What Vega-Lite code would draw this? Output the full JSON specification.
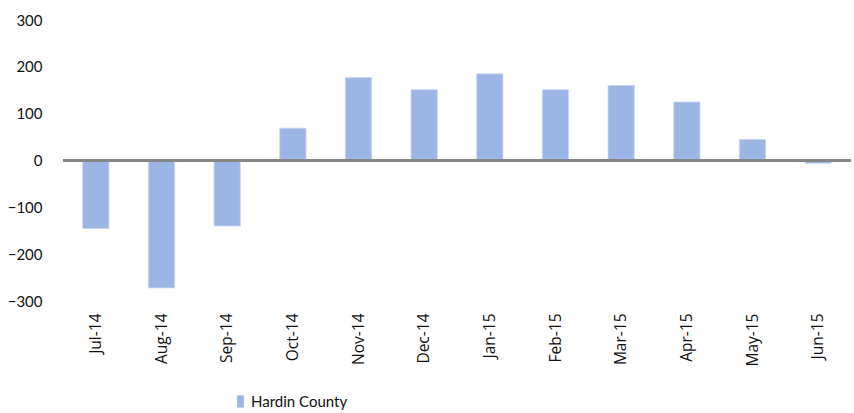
{
  "$schema": "https://vega.github.io/schema/vega-lite/v6.json",
  "autosize": {"type": "none"},
  "width": 788,
  "height": 281,
  "padding": {"left": 63, "top": 20, "right": 3, "bottom": 112},
  "background": "white",
  "config": {"view": {"stroke": null}, "font": "Lato"},
  "data": {"values": [
    {"month": "Jul-14", "value": -145, "series": "Hardin County"},
    {"month": "Aug-14", "value": -272, "series": "Hardin County"},
    {"month": "Sep-14", "value": -140, "series": "Hardin County"},
    {"month": "Oct-14", "value": 69, "series": "Hardin County"},
    {"month": "Nov-14", "value": 177, "series": "Hardin County"},
    {"month": "Dec-14", "value": 151, "series": "Hardin County"},
    {"month": "Jan-15", "value": 185, "series": "Hardin County"},
    {"month": "Feb-15", "value": 151, "series": "Hardin County"},
    {"month": "Mar-15", "value": 160, "series": "Hardin County"},
    {"month": "Apr-15", "value": 125, "series": "Hardin County"},
    {"month": "May-15", "value": 45, "series": "Hardin County"},
    {"month": "Jun-15", "value": -6, "series": "Hardin County"}
  ]},
  "layer": [
    {
      "mark": {"type": "bar", "stroke": "#C9D7F0", "strokeWidth": 0.8},
      "encoding": {
        "x": {"field": "month", "type": "nominal", "sort": null,
          "scale": {"paddingInner": 0.6, "paddingOuter": 0.3},
          "axis": {"title": null, "labelAngle": -90, "labelAlign": "right", "labelBaseline": "middle", "labelPadding": 12, "domain": false, "ticks": false, "labelFontSize": 15.5, "labelColor": "#111", "labelFont": "Open Sans"}},
        "y": {"field": "value", "type": "quantitative",
          "scale": {"domain": [-300, 300], "nice": false},
          "axis": {"title": null, "values": [-300, -200, -100, 0, 100, 200, 300], "grid": false, "domain": false, "ticks": false, "labelPadding": 21, "labelFontSize": 15, "labelColor": "#111", "labelFont": "Lato"}},
        "color": {"field": "series", "type": "nominal",
          "scale": {"range": ["#9BB6E4"]},
          "legend": {"title": null, "orient": "none", "legendX": 170, "legendY": 374, "symbolType": "M-0.55,-1H0.55V1H-0.55Z", "symbolSize": 150, "labelFontSize": 15, "labelOffset": 3, "labelColor": "#111", "labelFont": "Lato", "symbolStrokeWidth": 0}}
      }
    },
    {
      "mark": {"type": "rule", "color": "#868686", "strokeWidth": 2},
      "encoding": {"y": {"datum": 0}}
    }
  ]
}
